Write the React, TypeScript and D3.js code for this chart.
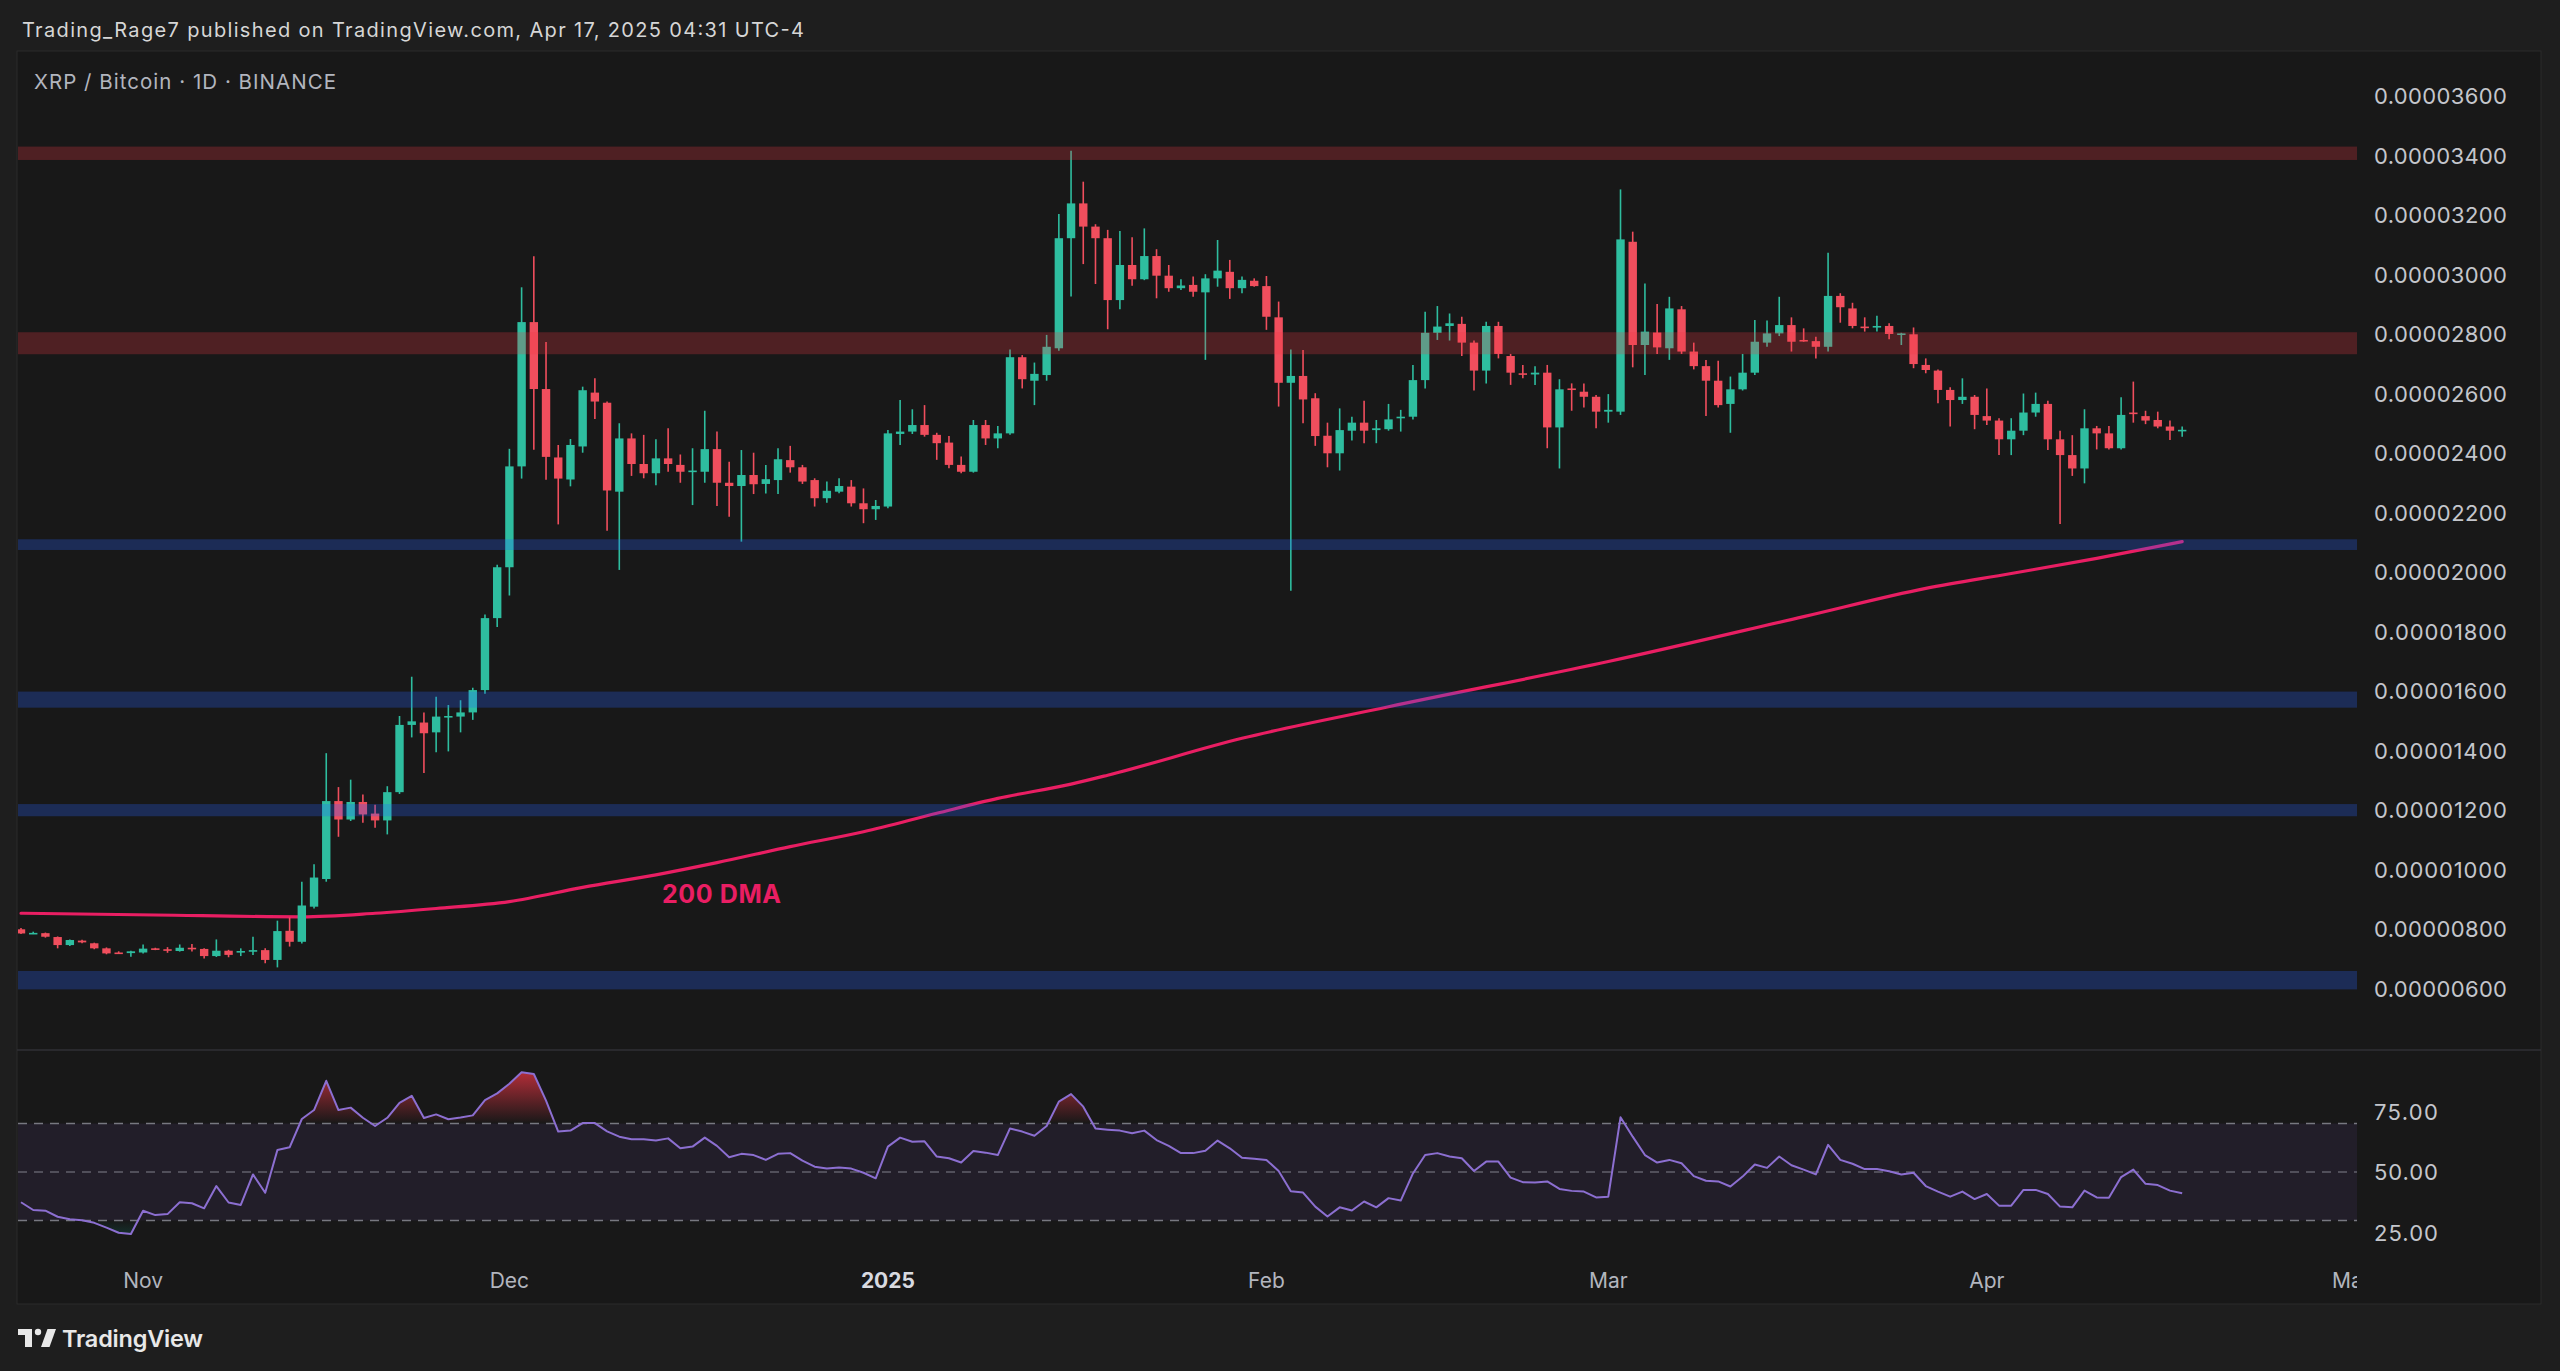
import React from 'react';
import * as d3 from 'd3';

const W = 2560;
const H = 1371;
const DAY = 86400000;
const START = Date.UTC(2024, 9, 22);

// Daily candles, [open, high, low, close] in satoshi (1e-8 BTC)
const ohlc: [number, number, number, number][] = [
  [800, 804, 784, 786], [787, 792, 784, 788], [787, 789, 772, 775], [774, 776, 736, 747], [747, 766, 744, 764],
  [762, 765, 753, 756], [753, 755, 733, 736], [736, 739, 716, 719], [722, 726, 717, 720], [720, 728, 708, 726],
  [722, 749, 719, 735], [736, 738, 730, 733], [733, 740, 721, 728], [727, 749, 725, 738], [738, 751, 725, 734],
  [734, 736, 702, 710], [710, 766, 707, 728], [728, 731, 706, 714], [723, 736, 710, 727], [726, 775, 714, 730],
  [730, 736, 686, 697], [697, 829, 672, 794], [795, 840, 742, 758], [758, 960, 752, 880], [876, 1019, 870, 974],
  [969, 1392, 960, 1231], [1231, 1278, 1111, 1169], [1169, 1303, 1164, 1228], [1228, 1253, 1158, 1186], [1189, 1219, 1141, 1166],
  [1166, 1281, 1119, 1261], [1261, 1517, 1255, 1487], [1487, 1649, 1445, 1499], [1495, 1529, 1325, 1459], [1462, 1582, 1395, 1515],
  [1515, 1554, 1398, 1517], [1515, 1570, 1462, 1529], [1529, 1612, 1504, 1604], [1604, 1858, 1592, 1846], [1846, 2025, 1816, 2017],
  [2017, 2415, 1922, 2356], [2356, 2958, 2315, 2841], [2841, 3062, 2412, 2616], [2616, 2774, 2311, 2388], [2386, 2428, 2161, 2315],
  [2312, 2448, 2289, 2428], [2423, 2624, 2402, 2612], [2604, 2652, 2515, 2574], [2570, 2574, 2140, 2275], [2271, 2501, 2008, 2450],
  [2450, 2467, 2324, 2364], [2364, 2462, 2316, 2333], [2333, 2447, 2293, 2383], [2383, 2484, 2338, 2364], [2361, 2396, 2301, 2338],
  [2338, 2417, 2226, 2342], [2338, 2543, 2301, 2414], [2414, 2473, 2223, 2301], [2301, 2372, 2187, 2290], [2290, 2411, 2103, 2327],
  [2327, 2402, 2263, 2296], [2297, 2361, 2265, 2313], [2310, 2417, 2263, 2380], [2377, 2425, 2335, 2353], [2353, 2361, 2297, 2305],
  [2310, 2316, 2221, 2249], [2249, 2305, 2234, 2274], [2271, 2316, 2266, 2290], [2288, 2310, 2221, 2232], [2232, 2282, 2165, 2212],
  [2212, 2243, 2176, 2223], [2221, 2478, 2215, 2467], [2465, 2579, 2428, 2473], [2473, 2548, 2465, 2495], [2495, 2562, 2456, 2462],
  [2462, 2469, 2378, 2434], [2436, 2458, 2350, 2361], [2361, 2389, 2333, 2338], [2338, 2512, 2335, 2495], [2495, 2512, 2428, 2450],
  [2450, 2492, 2417, 2467], [2467, 2749, 2462, 2723], [2723, 2730, 2618, 2649], [2644, 2705, 2562, 2667], [2663, 2798, 2644, 2758],
  [2753, 3204, 2745, 3123], [3123, 3417, 2927, 3240], [3240, 3313, 3036, 3162], [3162, 3170, 2969, 3123], [3123, 3151, 2817, 2915],
  [2915, 3147, 2884, 3033], [3033, 3126, 2963, 2985], [2985, 3156, 2982, 3063], [3063, 3086, 2921, 2997], [2997, 3033, 2943, 2955],
  [2955, 2985, 2949, 2964], [2966, 2994, 2926, 2943], [2941, 3002, 2714, 2988], [2988, 3117, 2960, 3014], [3010, 3050, 2919, 2955],
  [2955, 2994, 2938, 2983], [2980, 2988, 2960, 2962], [2962, 2996, 2815, 2859], [2857, 2910, 2557, 2637], [2637, 2749, 1938, 2660],
  [2660, 2747, 2501, 2581], [2585, 2602, 2425, 2458], [2459, 2503, 2353, 2400], [2400, 2551, 2342, 2478], [2476, 2523, 2443, 2503],
  [2503, 2577, 2434, 2476], [2478, 2512, 2434, 2484], [2481, 2566, 2476, 2514], [2519, 2546, 2473, 2523], [2523, 2697, 2514, 2646],
  [2646, 2876, 2618, 2805], [2805, 2895, 2781, 2826], [2828, 2870, 2779, 2837], [2835, 2859, 2727, 2772], [2772, 2779, 2611, 2678],
  [2678, 2842, 2635, 2828], [2828, 2842, 2719, 2734], [2727, 2734, 2630, 2671], [2669, 2697, 2652, 2665], [2665, 2693, 2630, 2671],
  [2671, 2697, 2417, 2487], [2487, 2649, 2349, 2615], [2618, 2635, 2543, 2613], [2607, 2635, 2554, 2590], [2590, 2596, 2484, 2540],
  [2540, 2599, 2503, 2546], [2540, 3287, 2529, 3119], [3111, 3145, 2689, 2764], [2764, 2971, 2663, 2809], [2806, 2902, 2734, 2756],
  [2753, 2926, 2714, 2887], [2884, 2895, 2734, 2742], [2742, 2772, 2682, 2693], [2693, 2714, 2525, 2644], [2644, 2711, 2554, 2562],
  [2566, 2658, 2469, 2615], [2615, 2734, 2611, 2671], [2671, 2848, 2663, 2775], [2772, 2846, 2758, 2803], [2803, 2926, 2794, 2831],
  [2831, 2857, 2742, 2775], [2781, 2820, 2775, 2777], [2777, 2792, 2719, 2758], [2758, 3074, 2742, 2929], [2929, 2938, 2839, 2891],
  [2887, 2906, 2820, 2828], [2826, 2857, 2809, 2822], [2823, 2862, 2809, 2828], [2828, 2837, 2783, 2801], [2800, 2805, 2764, 2803],
  [2800, 2823, 2686, 2700], [2697, 2719, 2669, 2680], [2678, 2682, 2568, 2613], [2613, 2622, 2490, 2579], [2579, 2652, 2566, 2590],
  [2590, 2596, 2481, 2529], [2525, 2618, 2495, 2510], [2510, 2518, 2394, 2447], [2447, 2518, 2394, 2476], [2476, 2601, 2461, 2537],
  [2537, 2604, 2523, 2566], [2566, 2577, 2411, 2447], [2447, 2476, 2162, 2394], [2394, 2461, 2324, 2349], [2349, 2548, 2299, 2484],
  [2484, 2492, 2413, 2467], [2467, 2492, 2413, 2417], [2417, 2588, 2413, 2529], [2537, 2641, 2503, 2532], [2525, 2543, 2498, 2510],
  [2512, 2540, 2484, 2490], [2490, 2510, 2445, 2476], [2474, 2490, 2456, 2479],
];

// RSI (14) per day
const rsiValues = [
  37.5, 34.3, 34.0, 31.5, 30.5, 30.1, 29.0, 27.0, 24.9, 24.4,
  34.0, 32.2, 32.6, 37.5, 37.1, 35.0, 44.2, 37.4, 36.4, 49.0,
  41.4, 59.1, 60.2, 71.9, 75.6, 87.7, 75.6, 76.6, 72.4, 69.0,
  72.4, 78.6, 81.5, 72.3, 73.8, 71.8, 72.5, 73.4, 79.7, 82.5,
  86.5, 91.2, 90.5, 79.5, 66.7, 67.1, 70.2, 70.2, 66.8, 64.6,
  63.5, 63.5, 63.0, 63.9, 59.8, 60.5, 64.2, 60.8, 56.1, 57.5,
  57.0, 55.0, 57.5, 57.8, 54.7, 52.2, 51.4, 51.9, 51.4, 49.7,
  47.4, 60.5, 64.2, 62.5, 62.7, 56.4, 55.7, 53.9, 58.7, 58.0,
  57.0, 68.0, 66.7, 65.0, 69.0, 79.1, 82.2, 77.0, 68.0, 67.5,
  67.1, 66.0, 67.1, 63.2, 60.8, 57.8, 57.8, 58.8, 63.0, 59.8,
  55.9, 55.5, 55.0, 50.4, 42.0, 41.5, 35.7, 31.6, 35.4, 34.1,
  37.8, 35.4, 39.2, 38.2, 49.4, 57.0, 57.8, 56.4, 55.7, 50.4,
  54.3, 54.3, 47.7, 45.8, 45.7, 46.1, 43.0, 42.2, 41.9, 39.5,
  39.8, 72.6, 64.6, 57.0, 53.9, 55.0, 53.6, 48.3, 46.4, 46.1,
  44.0, 48.1, 53.1, 51.7, 56.4, 52.8, 51.0, 49.0, 61.2, 55.0,
  53.4, 51.2, 51.2, 50.3, 49.0, 49.7, 44.2, 41.9, 39.8, 41.9,
  38.8, 40.9, 36.1, 36.1, 42.6, 42.6, 40.9, 35.7, 35.4, 42.3,
  39.5, 39.4, 47.9, 51.0, 45.1, 44.6, 42.3, 41.2,
];

// 200-day moving average read at sample days (day offset from Oct 22, 2024)
const maDays = [0, 11, 23, 29, 34, 40, 46, 52, 57, 63, 69, 75, 80, 86, 89, 100, 112, 130, 146, 156, 163, 170, 177];
const maValues = [854, 848, 842, 854, 870, 893, 941, 983, 1024, 1078, 1128, 1190, 1240, 1288, 1318, 1442, 1548, 1700, 1851, 1946, 1996, 2047, 2103];

const resistanceZones: [number, number][] = [[3386, 3431], [2733, 2807]];
const supportZones: [number, number][] = [[2075, 2111], [1545, 1599], [1180, 1221], [598, 660]];

const priceTicks = [600, 800, 1000, 1200, 1400, 1600, 1800, 2000, 2200, 2400, 2600, 2800, 3000, 3200, 3400, 3600];
const rsiTicks = [25, 50, 75];
const rsiLevels = [70, 50, 30];

const monthTickDates = [
  Date.UTC(2024, 10, 1), Date.UTC(2024, 11, 1), Date.UTC(2025, 0, 1), Date.UTC(2025, 1, 1),
  Date.UTC(2025, 2, 1), Date.UTC(2025, 3, 1), Date.UTC(2025, 4, 1),
];
const monthTickLabels = ['Nov', 'Dec', '2025', 'Feb', 'Mar', 'Apr', 'May'];

const UP = '#2ebd9f';
const DOWN = '#f04e5d';
const FONT = "Inter, 'Noto Sans', 'DejaVu Sans', sans-serif";

const PLOT_L = 18;
const PLOT_R = 2357;
const PANEL_L = 17;
const PANEL_R = 2541;
const PANEL_T = 51;
const PANEL_B = 1304;
const SEP_Y = 1050;
const RSI_B = 1262;

export default function App() {
  const x = d3.scaleUtc()
    .domain([new Date(START), new Date(START + 177 * DAY)])
    .range([21, 21 + 177 * 12.21]);
  const y = d3.scaleLinear().domain([600, 3600]).range([988.8, 96.3]);
  const yR = d3.scaleLinear().domain([25, 75]).range([1232.5, 1111.5]);
  const dayX = (i: number) => x(new Date(START + i * DAY));

  const bw = 8.4;

  const maLine = d3.line<number>()
    .x((_, i) => dayX(maDays[i]))
    .y((v) => y(v))
    .curve(d3.curveMonotoneX)(maValues) || '';

  const rsiLine = d3.line<number>()
    .x((_, i) => dayX(i))
    .y((v) => yR(v))(rsiValues) || '';

  const obArea = d3.area<number>()
    .x((_, i) => dayX(i))
    .y0(yR(70))
    .y1((v) => yR(v))(rsiValues) || '';
  const osArea = d3.area<number>()
    .x((_, i) => dayX(i))
    .y0(yR(30))
    .y1((v) => yR(v))(rsiValues) || '';

  const fmt = (v: number) => (v * 1e-8).toFixed(8);

  return (
    <div style={{ position: 'absolute', left: 0, top: 0, width: W, height: H }}>
      <svg width={W} height={H} viewBox={`0 0 ${W} ${H}`} style={{ display: 'block' }}>
        <defs>
          <clipPath id="plotClip">
            <rect x={PLOT_L} y={PANEL_T} width={PLOT_R - PLOT_L} height={SEP_Y - PANEL_T} />
          </clipPath>
          <clipPath id="rsiClip">
            <rect x={PLOT_L} y={SEP_Y} width={PLOT_R - PLOT_L} height={RSI_B - SEP_Y} />
          </clipPath>
          <clipPath id="obClip">
            <rect x={PLOT_L} y={SEP_Y} width={PLOT_R - PLOT_L} height={yR(70) - SEP_Y} />
          </clipPath>
          <clipPath id="osClip">
            <rect x={PLOT_L} y={yR(30)} width={PLOT_R - PLOT_L} height={RSI_B - yR(30)} />
          </clipPath>
          <clipPath id="timeClip">
            <rect x={PLOT_L} y={RSI_B} width={PLOT_R - PLOT_L} height={PANEL_B - RSI_B} />
          </clipPath>
          <linearGradient id="obGrad" gradientUnits="userSpaceOnUse" x1="0" x2="0" y1={yR(100)} y2={yR(70)}>
            <stop offset="0" stopColor="#f23645" stopOpacity="1" />
            <stop offset="1" stopColor="#f23645" stopOpacity="0" />
          </linearGradient>
          <linearGradient id="osGrad" gradientUnits="userSpaceOnUse" x1="0" x2="0" y1={yR(30)} y2={yR(0)}>
            <stop offset="0" stopColor="#089981" stopOpacity="0" />
            <stop offset="1" stopColor="#089981" stopOpacity="1" />
          </linearGradient>
        </defs>

        {/* outer background */}
        <rect x={0} y={0} width={W} height={H} fill="#1e1e1e" />

        {/* header */}
        <text x={22} y={37} fill="#d6d6d6" fontFamily={FONT} fontSize={20} textLength={782} lengthAdjust="spacing">
          Trading_Rage7 published on TradingView.com, Apr 17, 2025 04:31 UTC-4
        </text>

        {/* chart panel */}
        <rect x={PANEL_L} y={PANEL_T} width={PANEL_R - PANEL_L} height={PANEL_B - PANEL_T} fill="#181818" stroke="#2b2b2b" strokeWidth={1} />
        <line x1={PANEL_L} x2={PANEL_R} y1={SEP_Y} y2={SEP_Y} stroke="#2f2f35" strokeWidth={1.5} />

        <text x={34} y={89} fill="#b2b5be" fontFamily={FONT} fontSize={20.5} textLength={302} lengthAdjust="spacing">
          XRP / Bitcoin · 1D · BINANCE
        </text>

        {/* price pane */}
        <g clipPath="url(#plotClip)">
          {/* 200 DMA */}
          <path d={maLine} fill="none" stroke="#e91e63" strokeWidth={3.2} strokeLinejoin="round" strokeLinecap="round" />

          {/* candles */}
          {ohlc.map(([o, h, l, c], i) => {
            const cx = dayX(i);
            const col = c >= o ? UP : DOWN;
            const yTop = y(Math.max(o, c));
            const yBot = y(Math.min(o, c));
            return (
              <g key={i}>
                <line x1={cx} x2={cx} y1={y(h)} y2={y(l)} stroke={col} strokeWidth={1.6} />
                <rect x={cx - bw / 2} y={yTop} width={bw} height={Math.max(1.6, yBot - yTop)} fill={col} />
              </g>
            );
          })}

          {/* zones */}
          {resistanceZones.map(([a, b], k) => (
            <rect key={'r' + k} x={PLOT_L} width={PLOT_R - PLOT_L} y={y(b)} height={y(a) - y(b)} fill="#f23645" fillOpacity={0.25} />
          ))}
          {supportZones.map(([a, b], k) => (
            <rect key={'s' + k} x={PLOT_L} width={PLOT_R - PLOT_L} y={y(b)} height={y(a) - y(b)} fill="#2962ff" fillOpacity={0.27} />
          ))}

          <text x={662} y={903} fill="#e91e63" fontFamily={FONT} fontSize={25} fontWeight={700} textLength={119} lengthAdjust="spacing">
            200 DMA
          </text>
        </g>

        {/* price axis */}
        {priceTicks.map((t) => (
          <text key={t} x={2374} y={y(t)} dominantBaseline="central" fill="#c4c6cc" fontFamily={FONT} fontSize={22} textLength={133} lengthAdjust="spacing">
            {fmt(t)}
          </text>
        ))}

        {/* RSI pane */}
        <g clipPath="url(#rsiClip)">
          <rect x={PLOT_L} width={PLOT_R - PLOT_L} y={yR(70)} height={yR(30) - yR(70)} fill="#7e57c2" fillOpacity={0.1} />
          <path d={obArea} fill="url(#obGrad)" clipPath="url(#obClip)" />
          <path d={osArea} fill="url(#osGrad)" clipPath="url(#osClip)" />
          {rsiLevels.map((lv) => (
            <line key={lv} x1={PLOT_L} x2={PLOT_R} y1={yR(lv)} y2={yR(lv)} stroke="#9598a1" strokeOpacity={lv === 50 ? 0.55 : 0.75} strokeWidth={1.5} strokeDasharray="9 7" />
          ))}
          <path d={rsiLine} fill="none" stroke="#8c6fd1" strokeWidth={2} strokeLinejoin="round" />
        </g>
        {rsiTicks.map((t) => (
          <text key={t} x={2374} y={yR(t)} dominantBaseline="central" fill="#c4c6cc" fontFamily={FONT} fontSize={22} textLength={64} lengthAdjust="spacing">
            {t.toFixed(2)}
          </text>
        ))}

        {/* time axis */}
        <g clipPath="url(#timeClip)">
          {monthTickDates.map((d, k) => (
            <text key={k} x={x(new Date(d))} y={1288} textAnchor="middle" fill={monthTickLabels[k] === '2025' ? '#d8dae0' : '#b2b5be'}
              fontWeight={monthTickLabels[k] === '2025' ? 700 : 400} fontFamily={FONT} fontSize={21}>
              {monthTickLabels[k]}
            </text>
          ))}
        </g>

        {/* footer logo */}
        <g fill="#e8e8e8">
          <rect x={18} y={1329} width={14} height={6} />
          <rect x={25} y={1329} width={7} height={18} />
          <circle cx={38} cy={1332} r={3.2} />
          <polygon points="41,1347 47.5,1329 56,1329 49.5,1347" />
        </g>
        <text x={62} y={1347} fill="#e8e8e8" fontFamily={FONT} fontSize={23.5} fontWeight={600} textLength={141} lengthAdjust="spacing">
          TradingView
        </text>
      </svg>
    </div>
  );
}
